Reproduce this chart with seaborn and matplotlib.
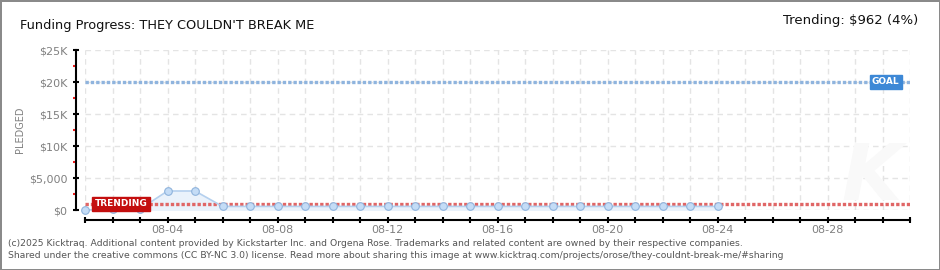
import matplotlib
matplotlib.use("Agg")
import matplotlib.pyplot as plt
import seaborn as sns
import pandas as pd
from matplotlib.ticker import FixedLocator, FuncFormatter

# ---- data ----
days = list(range(1, 25))  # August 1 .. August 24
pledged = [0, 150, 150, 2970, 2970, 560, 560, 560, 560, 560, 560, 560,
           560, 560, 560, 560, 560, 560, 560, 560, 560, 560, 560, 560]
goal = 20000
trending = 962
trending_pct = 4
title = "Funding Progress: THEY COULDN'T BREAK ME"
y_ticks = [0, 5000, 10000, 15000, 20000, 25000]
y_tick_labels = ["$0", "$5,000", "$10K", "$15K", "$20K", "$25K"]
x_label_days = [4, 8, 12, 16, 20, 24, 28]
month = "08"
footer1 = ("(c)2025 Kicktraq. Additional content provided by Kickstarter Inc. and Orgena Rose. "
           "Trademarks and related content are owned by their respective companies.")
footer2 = ("Shared under the creative commons (CC BY-NC 3.0) license. Read more about sharing this image at "
           "www.kicktraq.com/projects/orose/they-couldnt-break-me/#sharing")

df = pd.DataFrame({"day": days, "pledged": pledged})

sns.set_style("white")
plt.rcParams['font.family'] = ['DejaVu Sans']

W, H = 940, 270
PX = 72 / 100  # points per pixel
fig = plt.figure(figsize=(W / 100, H / 100), dpi=100)
fig.patch.set_facecolor("white")
fig.patch.set_edgecolor("#8a8a8a")
fig.patch.set_linewidth(2)

x0, x1 = 85, 910
y0, y1 = 210, 50
ax = fig.add_axes([x0 / W, (H - y0) / H, (x1 - x0) / W, (y0 - y1) / H])
ax.set_xlim(1, 31)
ax.set_ylim(0, 25000)

# grid
for d in range(1, 32):
    ax.axvline(d, color="#e4e4e4", lw=1, ls=(0, (4, 3)), zorder=0)
for v in y_ticks:
    ax.axhline(v, color="#e4e4e4", lw=1, ls=(0, (4, 3)), zorder=0)

# faint watermark
ax.text(29.6, 5000, "K", fontsize=56, fontstyle="italic", fontweight="bold",
        color="#f9f9f9", ha="center", va="center", zorder=0)

# fill & line
ax.fill_between(df["day"], df["pledged"], color="#eaf2fb", zorder=1)
sns.lineplot(data=df, x="day", y="pledged", ax=ax, color="#b5d0ee", lw=1.2,
             marker="o", markersize=5.5, markerfacecolor="#c4dcf6",
             markeredgecolor="#8fb3dc", markeredgewidth=0.8, zorder=3, clip_on=False)

# goal and trending lines
ax.axhline(goal, color="#8fb4de", lw=2.4, ls=(0, (1, 0.6)), zorder=2)
ax.axhline(trending, color="#e06666", lw=2.4, ls=(0, (1, 0.6)), zorder=2)

ax.text(30.62, goal, "GOAL", color="white", fontsize=6.5, fontweight="bold",
        ha="right", va="center", zorder=5,
        bbox=dict(boxstyle="square,pad=0.25", fc="#3d88d6", ec="#3d88d6"))
ax.text(1.35, trending, "TRENDING", color="white", fontsize=6.5, fontweight="bold",
        ha="left", va="center", zorder=5,
        bbox=dict(boxstyle="square,pad=0.25", fc="#c40f0f", ec="#c40f0f"))

# spines
for s in ["top", "right"]:
    ax.spines[s].set_visible(False)
ax.spines["left"].set_position(("outward", 9 * PX))
ax.spines["bottom"].set_position(("outward", 10 * PX))
for s in ["left", "bottom"]:
    ax.spines[s].set_color("black")
    ax.spines[s].set_linewidth(1.5)

ax.yaxis.set_major_locator(FixedLocator(y_ticks))
ax.set_yticklabels(y_tick_labels)
ax.yaxis.set_minor_locator(FixedLocator([2500, 7500, 12500, 17500, 22500]))
ax.tick_params(axis="y", which="major", left=True, direction="inout", length=6 * PX,
               width=1.5, color="black", labelsize=8, labelcolor="#808080", pad=4)
ax.tick_params(axis="y", which="minor", left=True, direction="out", length=3 * PX,
               width=1.5, color="#ee1c1c")

ax.xaxis.set_major_locator(FixedLocator(list(range(1, 32))))
ax.xaxis.set_major_formatter(FuncFormatter(
    lambda v, p: f"{month}-{int(round(v)):02d}" if int(round(v)) in x_label_days else ""))
ax.tick_params(axis="x", which="major", bottom=True, direction="inout", length=6 * PX,
               width=1.5, color="black", labelsize=8, labelcolor="#808080", pad=1.5)

ax.set_xlabel("")
ax.set_ylabel("PLEDGED", fontsize=7, color="#808080", labelpad=3)

# title and trending summary
fig.text(20 / W, 1 - 25 / H, title, fontsize=9.3, color="#111111", va="center", ha="left")
fig.text(918 / W, 1 - 21 / H, f"Trending: ${trending} ({trending_pct}%)", fontsize=9.5,
         color="#111111", va="center", ha="right")

# footer
fig.text(8 / W, 1 - 243 / H, footer1, fontsize=6.7, color="#555555", va="center", ha="left")
fig.text(8 / W, 1 - 256 / H, footer2, fontsize=6.7, color="#555555", va="center", ha="left")

fig.savefig("out.png", dpi=100, facecolor=fig.get_facecolor(), edgecolor=fig.get_edgecolor())
